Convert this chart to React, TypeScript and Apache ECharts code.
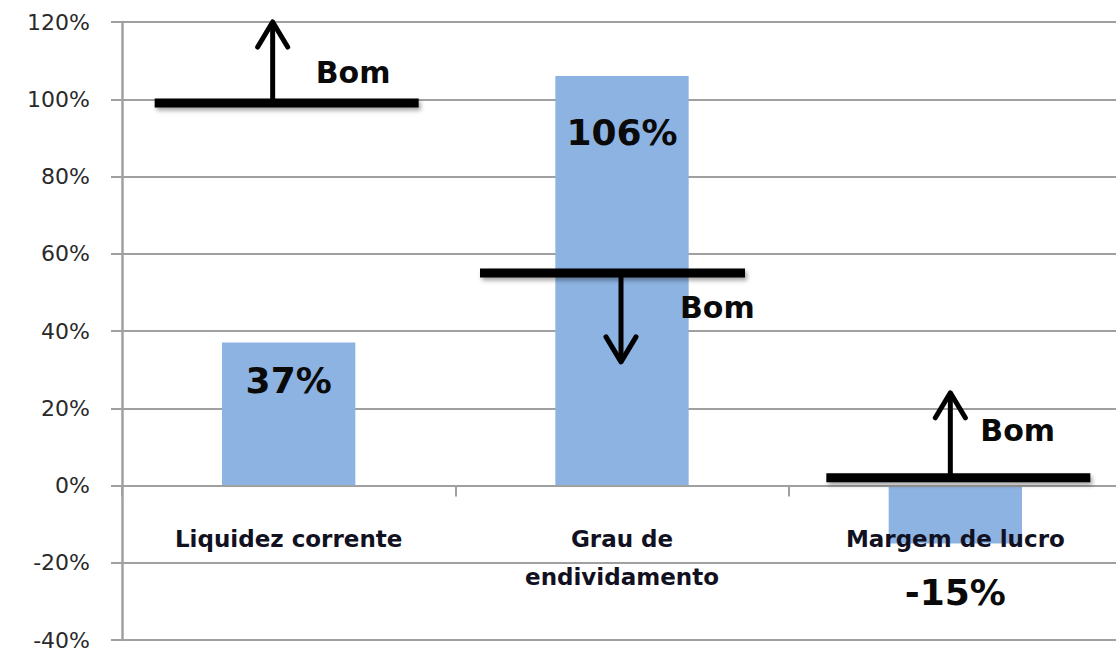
import React, { useEffect, useRef } from 'react';
import * as echarts from 'echarts';

const categories = ['Liquidez corrente', 'Grau de\nendividamento', 'Margem de lucro'];
const values = [37, 106, -15];
const yMin = -40;
const yMax = 120;
const yInterval = 20;
const thresholds = [99, 55, 2];
const arrowTips = [120, 32, 24];
const bomValues = [107, 46, 14.3];
const goodLabel = 'Bom';

export default function App() {
  const ref = useRef<HTMLDivElement>(null);
  useEffect(() => {
    document.body.style.margin = '0';
    const chart = echarts.init(ref.current!, null, { renderer: 'svg' });
    const labelCfg: any[] = [
      { position: 'insideTop', distance: 20 },
      { position: 'insideTop', distance: 38 },
      { position: 'bottom', distance: 31 },
    ];
    const gray = '#a0a0a0';
    chart.setOption({
      animation: false,
      grid: { left: 122, top: 22, bottom: 13, width: 1000, containLabel: false, outerBoundsMode: 'none' },
      xAxis: {
        type: 'category',
        data: categories,
        z: 10,
        axisLine: { show: true, lineStyle: { color: gray, width: 2 } },
        axisTick: { show: true, length: 11, lineStyle: { color: gray, width: 2 } },
        axisLabel: {
          interval: 0,
          margin: -120,
          fontFamily: 'DejaVu Sans',
          fontWeight: 'bold',
          fontSize: 23,
          lineHeight: 38,
          color: '#111122',
        },
      },
      yAxis: {
        type: 'value',
        min: yMin,
        max: yMax,
        interval: yInterval,
        axisLine: { show: true, lineStyle: { color: gray, width: 2.5 } },
        axisTick: { show: true, length: 11, lineStyle: { color: gray, width: 2 } },
        splitLine: { show: true, lineStyle: { color: gray, width: 2 } },
        axisLabel: {
          formatter: '{value}%',
          margin: 32,
          fontFamily: 'DejaVu Sans',
          fontSize: 22,
          color: '#2a2a2a',
        },
      },
      series: [
        {
          type: 'bar',
          barWidth: '40%',
          itemStyle: { color: '#8db3e2' },
          label: {
            show: true,
            formatter: '{c}%',
            fontFamily: 'DejaVu Sans',
            fontWeight: 'bold',
            fontSize: 36,
            color: '#0a0a0a',
          },
          data: values.map((v, i) => ({ value: v, label: labelCfg[i] })),
        },
      ],
    });

    const lineLeft = [-134, -142, -129];
    const lineRight = [130, 123, 135];
    const arrowDx = [-16, -1, -5];
    const bomDx = [27, 58, 25];
    const els: any[] = [];
    categories.forEach((_, i) => {
      const [cx, ly] = chart.convertToPixel({ gridIndex: 0 } as any, [i, thresholds[i]]) as number[];
      const [, ty] = chart.convertToPixel({ gridIndex: 0 } as any, [i, arrowTips[i]]) as number[];
      const [, by] = chart.convertToPixel({ gridIndex: 0 } as any, [i, bomValues[i]]) as number[];
      const ax = cx + arrowDx[i];
      const dir = ly > ty ? 1 : -1;
      els.push({
        type: 'line',
        z: 100,
        shape: { x1: ax, y1: ly, x2: ax, y2: ty + dir * 2 },
        style: { stroke: '#000', lineWidth: 5 },
      });
      els.push({
        type: 'polyline',
        z: 100,
        shape: { points: [[ax - 15, ty + dir * 25], [ax, ty], [ax + 15, ty + dir * 25]] },
        style: { stroke: '#000', lineWidth: 5, fill: 'none', lineJoin: 'round', lineCap: 'round' },
      });
      els.push({
        type: 'rect',
        z: 101,
        shape: { x: cx + lineLeft[i], y: ly - 4.5, width: lineRight[i] - lineLeft[i], height: 9 },
        style: {
          fill: '#000',
          shadowBlur: 4,
          shadowOffsetX: 2,
          shadowOffsetY: 3,
          shadowColor: 'rgba(0,0,0,0.35)',
        },
      });
      els.push({
        type: 'text',
        z: 102,
        style: {
          text: goodLabel,
          x: cx + bomDx[i],
          y: by,
          fontFamily: 'DejaVu Sans',
          fontWeight: 'bold',
          fontSize: 30,
          fill: '#0a0a0a',
          verticalAlign: 'middle',
          align: 'left',
        },
      });
    });
    chart.setOption({ graphic: els });

    return () => chart.dispose();
  }, []);
  return <div ref={ref} style={{ width: 1116, height: 653 }} />;
}
